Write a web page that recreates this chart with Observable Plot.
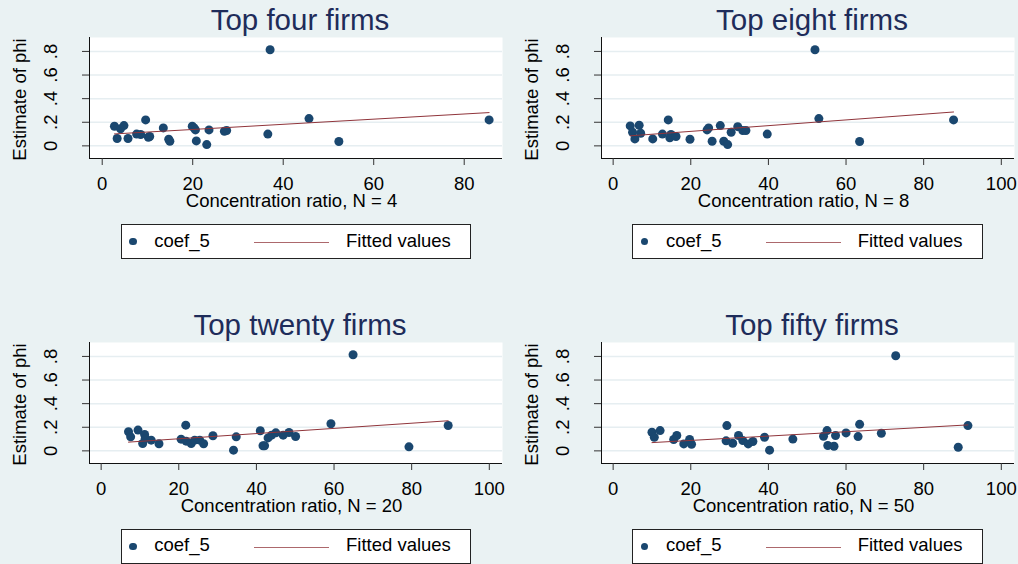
<!DOCTYPE html>
<html>
<head>
<meta charset="utf-8">
<script src="https://cdn.jsdelivr.net/npm/d3@7"></script>
<script src="https://cdn.jsdelivr.net/npm/@observablehq/plot@0.6"></script>
<style>
  html, body { margin: 0; padding: 0; }
  body { width: 1018px; height: 564px; overflow: hidden; background: #eaf2f3; position: relative;
         font-family: "Liberation Sans", Arial, sans-serif; }
  .panel { position: absolute; width: 506px; height: 300px; }
  .panel svg { position: absolute; left: 0; top: 0; overflow: visible; }
  .legend { position: absolute; left: 120.7px; top: 224px; width: 348.3px; height: 33px;
            background: #fff; border: 1px solid #222; }
  .legend .dot { position: absolute; left: 7.6px; top: 12.9px; width: 7.5px; height: 7.5px;
                 border-radius: 50%; background: #1a476f; }
  .legend .ln { position: absolute; left: 132.3px; top: 17.2px; width: 75.3px; height: 1px; background: #90353b; opacity: 0.75; }
  .legend .tx { position: absolute; font-size: 18.5px; line-height: 1; color: #000; top: 6.6px; white-space: nowrap; }
</style>
</head>
<body>
<script>
// ---------- data ----------
const yTicks = [0, 0.2, 0.4, 0.6, 0.8];
const yTickLabels = ["0", ".2", ".4", ".6", ".8"];
const xTicks80 = [0, 20, 40, 60, 80];
const xTicks100 = [0, 20, 40, 60, 80, 100];
const yLabel = "Estimate of phi";
const titles = ["Top four firms", "Top eight firms", "Top twenty firms", "Top fifty firms"];
const xLabels = ["Concentration ratio, N = 4", "Concentration ratio, N = 8", "Concentration ratio, N = 20", "Concentration ratio, N = 50"];
const legendLabels = ["coef_5", "Fitted values"];

const top4X = [2.7, 3.3, 4.05, 4.8, 5.7, 7.6, 8.5, 9.6, 10.2, 10.5, 13.5, 14.7, 14.95, 19.9, 20.3, 20.6, 20.8, 23.1, 23.6, 27.0, 27.5, 36.6, 37.1, 45.7, 52.3, 85.5];
const top4Y = [0.166, 0.062, 0.144, 0.172, 0.062, 0.10, 0.096, 0.22, 0.073, 0.079, 0.152, 0.056, 0.039, 0.166, 0.152, 0.135, 0.042, 0.011, 0.135, 0.124, 0.13, 0.10, 0.814, 0.231, 0.037, 0.22];
const top4FitX = [2.7, 85.5];
const top4FitY = [0.101, 0.282];

const top8X = [4.4, 5.0, 5.6, 6.7, 7.1, 10.2, 12.7, 14.2, 14.6, 14.9, 16.2, 19.8, 24.2, 24.6, 25.5, 27.6, 28.5, 29.5, 30.4, 32.1, 33.4, 34.2, 39.7, 52.0, 53.0, 63.5, 87.7];
const top8Y = [0.169, 0.115, 0.059, 0.175, 0.107, 0.059, 0.10, 0.22, 0.068, 0.096, 0.079, 0.056, 0.135, 0.152, 0.039, 0.172, 0.039, 0.011, 0.115, 0.163, 0.13, 0.13, 0.10, 0.814, 0.231, 0.037, 0.22];
const top8FitX = [4.4, 87.7];
const top8FitY = [0.085, 0.287];

const top20X = [7.05, 7.6, 9.5, 11.2, 10.7, 11.35, 12.9, 14.9, 20.6, 21.8, 21.9, 23.2, 24.1, 25.4, 26.4, 28.8, 34.1, 34.8, 41.0, 41.7, 42.1, 43.0, 43.9, 45.0, 46.9, 48.4, 50.1, 59.2, 64.9, 79.3, 89.4];
const top20Y = [0.162, 0.119, 0.176, 0.139, 0.062, 0.105, 0.091, 0.06, 0.099, 0.218, 0.082, 0.062, 0.091, 0.091, 0.06, 0.128, 0.006, 0.119, 0.17, 0.043, 0.043, 0.11, 0.133, 0.153, 0.133, 0.156, 0.122, 0.23, 0.814, 0.034, 0.215];
const top20FitX = [7.05, 89.4];
const top20FitY = [0.074, 0.255];

const top50X = [10.0, 10.6, 12.1, 15.6, 16.4, 18.2, 19.7, 20.2, 29.3, 29.1, 30.8, 32.3, 33.4, 34.8, 36.0, 39.0, 40.3, 46.3, 54.2, 55.1, 55.3, 56.9, 57.3, 60.0, 63.1, 63.5, 69.1, 72.8, 88.9, 91.4];
const top50Y = [0.158, 0.115, 0.172, 0.096, 0.13, 0.059, 0.096, 0.056, 0.214, 0.085, 0.065, 0.13, 0.087, 0.059, 0.079, 0.115, 0.006, 0.10, 0.124, 0.172, 0.045, 0.039, 0.13, 0.152, 0.121, 0.225, 0.149, 0.806, 0.031, 0.214];
const top50FitX = [10.0, 91.4];
const top50FitY = [0.07, 0.22];

// ---------- layout ----------
const yDomain = [-0.107, 0.918];
const panels = [
  {left: 0,     top: 0,     xs: top4X,  ys: top4Y,  fx: top4FitX,  fy: top4FitY,  xDomain: [-2.81, 88.46], xTicks: xTicks80},
  {left: 511.7, top: 0,     xs: top8X,  ys: top8Y,  fx: top8FitX,  fy: top8FitY,  xDomain: [-3.0, 103.4], xTicks: xTicks100},
  {left: 0,     top: 304.7, xs: top20X, ys: top20Y, fx: top20FitX, fy: top20FitY, xDomain: [-3.0, 103.4], xTicks: xTicks100},
  {left: 511.7, top: 304.7, xs: top50X, ys: top50Y, fx: top50FitX, fy: top50FitY, xDomain: [-3.0, 103.4], xTicks: xTicks100}
];

panels.forEach((p, k) => {
  const pts = p.xs.map((x, i) => ({x, y: p.ys[i]}));
  const fit = p.fx.map((x, i) => ({x, y: p.fy[i]}));
  const chart = Plot.plot({
    width: 506, height: 212,
    marginLeft: 89, marginRight: 4, marginTop: 37, marginBottom: 54,
    x: {domain: p.xDomain},
    y: {domain: yDomain},
    style: {fontFamily: "'Liberation Sans', Arial, sans-serif", fontSize: "18.5px", background: "transparent", color: "#000", overflow: "visible"},
    marks: [
      Plot.frame({fill: "white", stroke: null}),
      Plot.gridY(yTicks, {stroke: "#e6eef1", strokeOpacity: 1, strokeWidth: 1.5}),
      Plot.ruleX([p.xDomain[0]], {stroke: "#111", strokeWidth: 1}),
      Plot.ruleY([yDomain[0]], {stroke: "#111", strokeWidth: 1}),
      Plot.axisY(yTicks, {tickSize: 7, tickFormat: () => "", stroke: "#333", label: null}),
      Plot.text(yTicks, {y: d => d, frameAnchor: "left", text: (d, i) => yTickLabels[i], rotate: -90,
        textAnchor: "middle", lineAnchor: "bottom", dx: -33, fill: "#000"}),
      Plot.axisX(p.xTicks, {tickSize: 7, tickPadding: 11.7, stroke: "#333", fill: "#000", label: null}),
      Plot.dot(pts, {x: "x", y: "y", r: 4.5, fill: "#1a476f", stroke: null}),
      Plot.line(fit, {x: "x", y: "y", stroke: "#90353b", strokeWidth: 1}),
      Plot.text([xLabels[k]], {frameAnchor: "bottom", text: d => d, dy: 48.5, dx: -4.5, lineAnchor: "bottom", fill: "#000"}),
      Plot.text([yLabel], {frameAnchor: "left", text: d => d, rotate: -90, textAnchor: "middle", lineAnchor: "bottom", dx: -64, dy: 1.5, fill: "#000"}),
      Plot.text([titles[k]], {frameAnchor: "top", text: d => d, dy: -8, dx: 4, lineAnchor: "bottom", fontSize: 29.5, fill: "#1e2c5a"})
    ]
  });
  const div = document.createElement("div");
  div.className = "panel";
  div.style.left = p.left + "px";
  div.style.top = p.top + "px";
  div.appendChild(chart);
  const lg = document.createElement("div");
  lg.className = "legend";
  lg.innerHTML = `<div class="dot"></div><span class="tx" style="left:32.6px">${legendLabels[0]}</span>` +
                 `<div class="ln"></div><span class="tx" style="left:224.3px">${legendLabels[1]}</span>`;
  div.appendChild(lg);
  document.body.appendChild(div);
});
</script>
</body>
</html>
